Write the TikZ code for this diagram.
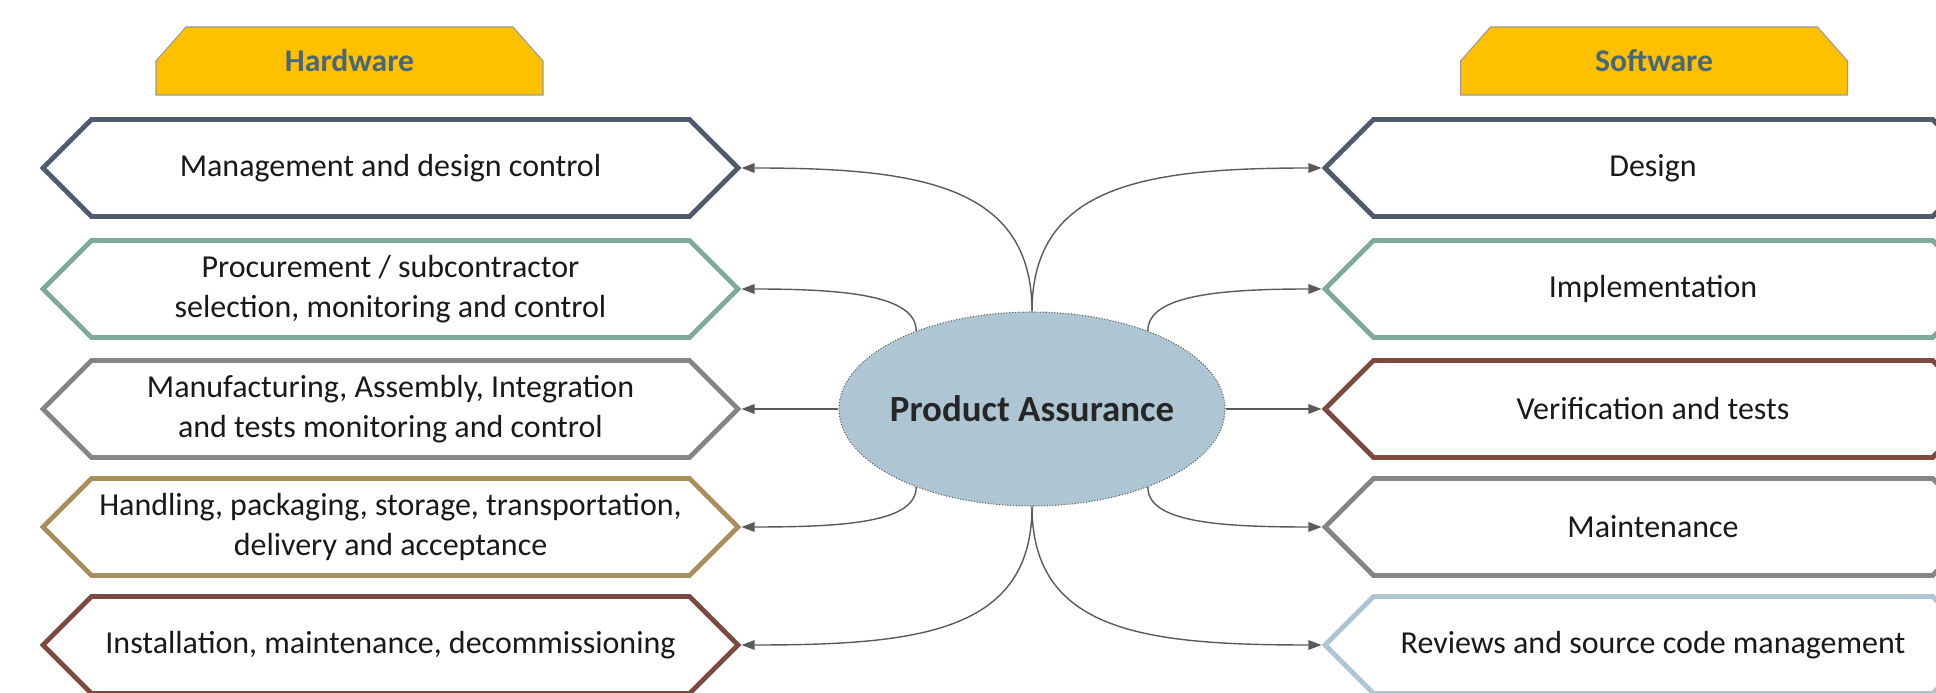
\documentclass[tikz,border=0pt]{standalone}
\usepackage{fontspec}
\setmainfont{Carlito}
\usetikzlibrary{shapes.geometric,shapes.symbols,arrows.meta}

\definecolor{slate}{HTML}{4E5B6A}
\definecolor{sage}{HTML}{7FA99E}
\definecolor{midgray}{HTML}{858585}
\definecolor{ochre}{HTML}{A88E5C}
\definecolor{rust}{HTML}{7E4A40}
\definecolor{paleblue}{HTML}{AEC6D3}
\definecolor{gold}{HTML}{FFC000}
\definecolor{tabtext}{HTML}{46677C}
\definecolor{wire}{HTML}{5A5A5A}

\tikzset{
	area/.style={signal, signal to=west and east, signal pointer angle=90,
		draw=#1, line width=2.8pt, fill=white, minimum height=1.94cm,
		inner sep=0pt, align=center, text=black!90,
		font=\fontsize{18.2}{23}\selectfont},
	hwbox/.style={area=#1, minimum width=13.9cm},
	swbox/.style={area=#1, minimum width=13.12cm},
	tabshape/.style={fill=gold, draw=gray!80, line width=0.6pt},
	tablabel/.style={text=tabtext, font=\fontsize{18}{22}\selectfont\bfseries},
	conn/.style={draw=wire, line width=0.8pt, -{Triangle[length=7.5pt,width=5.5pt]}},
}

\begin{document}
\begin{tikzpicture}
	\useasboundingbox (0,0) rectangle (38.72,13.86);
	
	% column headers
	\foreach \x in {6.99,33.08}
		\draw[tabshape] (\x-3.87,11.96) -- ++(0,0.68) -- ++(0.6,0.68) -- (\x+3.27,13.32)
			-- ++(0.6,-0.68) -- ++(0,-0.68) -- cycle;
	\node[tablabel] (hwtab) at (6.99,12.64) {Hardware};
	\node[tablabel] (swtab) at (33.08,12.64) {Software};
	
	% centre
	\node[ellipse, fill=paleblue, draw=wire, densely dotted, line width=0.6pt,
		minimum width=7.72cm, minimum height=3.88cm, inner xsep=-0.3cm,
		text=black!85, font=\fontsize{21}{25}\selectfont\bfseries] (pa) at (20.64,5.68) {Product Assurance};
	
	% hardware side
	\node[hwbox=slate] (hw1) at (7.81,10.5) {Management and design control};
	\node[hwbox=sage] (hw2) at (7.81,8.08) {Procurement / subcontractor\\selection, monitoring and control};
	\node[hwbox=midgray] (hw3) at (7.81,5.68) {Manufacturing, Assembly, Integration\\and tests monitoring and control};
	\node[hwbox=ochre] (hw4) at (7.81,3.32) {Handling, packaging, storage, transportation,\\delivery and acceptance};
	\node[hwbox=rust] (hw5) at (7.81,0.96) {Installation, maintenance, decommissioning};
	
	% software side
	\node[swbox=slate] (sw1) at (33.06,10.5) {Design};
	\node[swbox=sage] (sw2) at (33.06,8.08) {Implementation};
	\node[swbox=rust] (sw3) at (33.06,5.68) {Verification and tests};
	\node[swbox=midgray] (sw4) at (33.06,3.32) {Maintenance};
	\node[swbox=paleblue] (sw5) at (33.06,0.96) {Reviews and source code management};
	
	\draw[conn] (pa.north) to[out=90,in=0,in looseness=1.4] (hw1.east);
	\draw[conn] (pa.146) to[out=90,in=0,out looseness=.5,in looseness=1.5] (hw2.east);
	\draw[conn] (pa.west) -- (hw3.east);
	\draw[conn] (pa.214) to[out=-90,in=0,out looseness=.5,in looseness=1.5] (hw4.east);
	\draw[conn] (pa.south) to[out=-90,in=0,in looseness=1.4] (hw5.east);
	
	\draw[conn] (pa.north) to[out=90,in=180,in looseness=1.4] (sw1.west);
	\draw[conn] (pa.34) to[out=90,in=180,out looseness=.5,in looseness=1.5] (sw2.west);
	\draw[conn] (pa.east) -- (sw3.west);
	\draw[conn] (pa.326) to[out=-90,in=180,out looseness=.5,in looseness=1.5] (sw4.west);
	\draw[conn] (pa.south) to[out=-90,in=180,in looseness=1.4] (sw5.west);
\end{tikzpicture}
\end{document}
